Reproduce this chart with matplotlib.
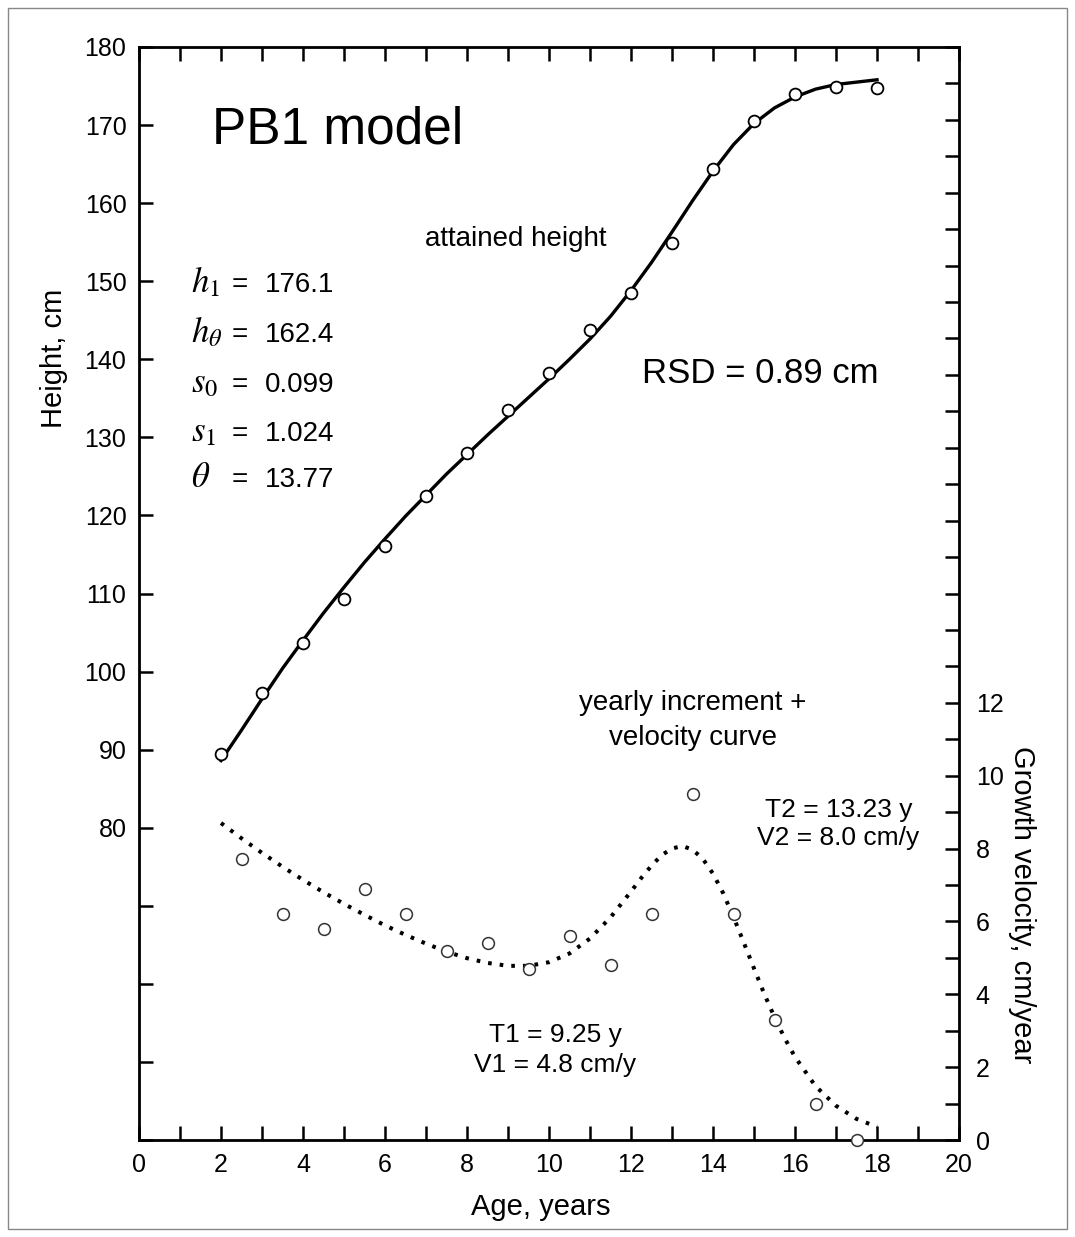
import matplotlib
matplotlib.use("Agg")
import matplotlib.pyplot as plt
from matplotlib.ticker import FixedLocator, FuncFormatter
from matplotlib.patches import Rectangle

plt.rcParams['font.family'] = ['Liberation Sans', 'DejaVu Sans']
plt.rcParams['mathtext.fontset'] = 'stix'

# 1. Datos
edad = [2, 3, 4, 5, 6, 7, 8, 9, 10, 11, 12, 13, 14, 15, 16, 17, 18]
altura = [89.4, 97.3, 103.6, 109.3, 116.1, 122.5, 128.0, 133.5, 138.3,
          143.8, 148.5, 154.9, 164.4, 170.5, 174.0, 174.9, 174.8]

edad_curva = [2, 2.5, 3, 3.5, 4, 4.5, 5, 5.5, 6, 6.5, 7, 7.5, 8, 8.5, 9, 9.5,
              10, 10.5, 11, 11.5, 12, 12.5, 13, 13.5, 14, 14.5, 15, 15.5,
              16, 16.5, 17, 17.5, 18]
altura_curva = [88.6, 92.5, 96.5, 100.4, 104.0, 107.5, 110.8, 114.0, 117.0,
                119.9, 122.6, 125.3, 127.8, 130.3, 132.7, 135.1, 137.5, 140.0,
                142.6, 145.5, 148.8, 152.4, 156.3, 160.3, 164.1, 167.5, 170.2,
                172.2, 173.6, 174.6, 175.2, 175.5, 175.8]

edad_inc = [2.5, 3.5, 4.5, 5.5, 6.5, 7.5, 8.5, 9.5, 10.5, 11.5, 12.5, 13.5,
            14.5, 15.5, 16.5, 17.5]
incremento = [7.7, 6.2, 5.8, 6.9, 6.2, 5.2, 5.4, 4.7, 5.6, 4.8, 6.2, 9.5,
              6.2, 3.3, 1.0, 0.0]

edad_vel = [2, 2.5, 3, 3.5, 4, 4.5, 5, 5.5, 6, 6.5, 7, 7.5, 8, 8.5, 9, 9.5,
            10, 10.5, 11, 11.5, 12, 12.25, 12.5, 12.75, 13, 13.25, 13.5,
            13.75, 14, 14.25, 14.5, 14.75, 15, 15.25, 15.5, 15.75, 16, 16.5,
            17, 17.5, 18]
velocidad = [8.70, 8.28, 7.88, 7.50, 7.14, 6.80, 6.48, 6.18, 5.89, 5.63, 5.39,
             5.17, 4.99, 4.86, 4.78, 4.78, 4.88, 5.12, 5.53, 6.11, 6.82, 7.19,
             7.53, 7.82, 8.00, 8.07, 7.97, 7.72, 7.31, 6.77, 6.12, 5.42, 4.71,
             4.01, 3.37, 2.79, 2.28, 1.48, 0.94, 0.58, 0.36]

simbolos = [r'$h_1$', r'$h_\theta$', r'$s_0$', r'$s_1$', r'$\theta$']
valores = ['176.1', '162.4', '0.099', '1.024', '13.77']

# 2. Figura y ejes
fig = plt.figure(figsize=(10.75, 12.37), dpi=100)
W, H = 1075, 1237
ax = fig.add_axes([139 / W, 1 - 1140 / H, (959 - 139) / W, (1140 - 47) / H])
ax2 = ax.twinx()

ax.set_xlim(0, 20)
ax.set_ylim(40, 180)
ax2.set_ylim(0, 30)

# 3. Curvas y puntos
ax.plot(edad_curva, altura_curva, color='black', lw=2.4, zorder=2)
ax.plot(edad, altura, 'o', ms=8.5, mfc='white', mec='black', mew=1.3, zorder=3)
ax2.plot(edad_vel, velocidad, color='black', lw=2.9,
         linestyle=(0, (0.9, 2.0)), zorder=2)
ax2.plot(edad_inc, incremento, 'o', ms=8.5, mfc='white', mec='#333333',
         mew=1.1, zorder=3, clip_on=False)

# 4. Ejes y marcas
for s in ax.spines.values():
    s.set_linewidth(2)
ax.set_xticks(range(0, 21, 2))
ax.set_xticks(range(1, 20, 2), minor=True)
ax.yaxis.set_major_locator(FixedLocator(range(40, 181, 10)))
ax.yaxis.set_major_formatter(FuncFormatter(lambda v, p: f"{v:.0f}" if v >= 80 else ""))
ax.tick_params(axis='both', which='both', direction='in', length=10, width=1.8,
               labelsize=18, pad=9)
ax.tick_params(axis='x', which='both', top=True)

ax2.yaxis.set_major_locator(FixedLocator(range(0, 31)))
ax2.yaxis.set_major_formatter(FuncFormatter(lambda v, p: f"{v:.0f}" if v <= 12 and v % 2 == 0 else ""))
ax2.tick_params(axis='y', direction='in', length=10, width=1.8, labelsize=18, pad=12)

# 5. Textos
ax.text(1.79, 167.7, "PB1 model", fontsize=37, ha='left', va='baseline')
ax.text(9.19, 154.5, "attained height", fontsize=20, ha='center', va='baseline')
ax.text(12.26, 137.0, "RSD = 0.89 cm", fontsize=25, ha='left', va='baseline')

for i, (sim, val) in enumerate(zip(simbolos, valores)):
    y = [148.6, 142.2, 135.8, 129.5, 123.6][i]
    ax.text(1.27, y, sim, fontsize=25, ha='left', va='baseline')
    ax.text(2.45, y, "=", fontsize=20, ha='center', va='baseline')
    ax.text(3.06, y, val, fontsize=20, ha='left', va='baseline')

ax.text(13.51, 95.1, "yearly increment +", fontsize=20, ha='center', va='baseline')
ax.text(13.51, 90.6, "velocity curve", fontsize=20, ha='center', va='baseline')
ax.text(17.06, 81.4, "T2 = 13.23 y", fontsize=19, ha='center', va='baseline')
ax.text(17.06, 77.8, "V2 = 8.0 cm/y", fontsize=19, ha='center', va='baseline')
ax.text(10.15, 52.55, "T1 = 9.25 y", fontsize=19, ha='center', va='baseline')
ax.text(10.15, 48.7, "V1 = 4.8 cm/y", fontsize=19, ha='center', va='baseline')

fig.text(54 / W, 1 - 358 / H, "Height, cm", fontsize=21, rotation=90,
         ha='center', va='center')
fig.text(541 / W, 1 - 1207 / H, "Age, years", fontsize=21, ha='center', va='center')
fig.text(1022 / W, 1 - 905 / H, "Growth velocity, cm/year", fontsize=21,
         rotation=270, ha='center', va='center')

# 6. Marco exterior
fig.patches.append(Rectangle((8 / W, 8 / H), 1 - 16 / W, 1 - 16 / H,
                             transform=fig.transFigure, fill=False,
                             edgecolor='#888888', lw=1))

fig.savefig("out.png", dpi=100)
